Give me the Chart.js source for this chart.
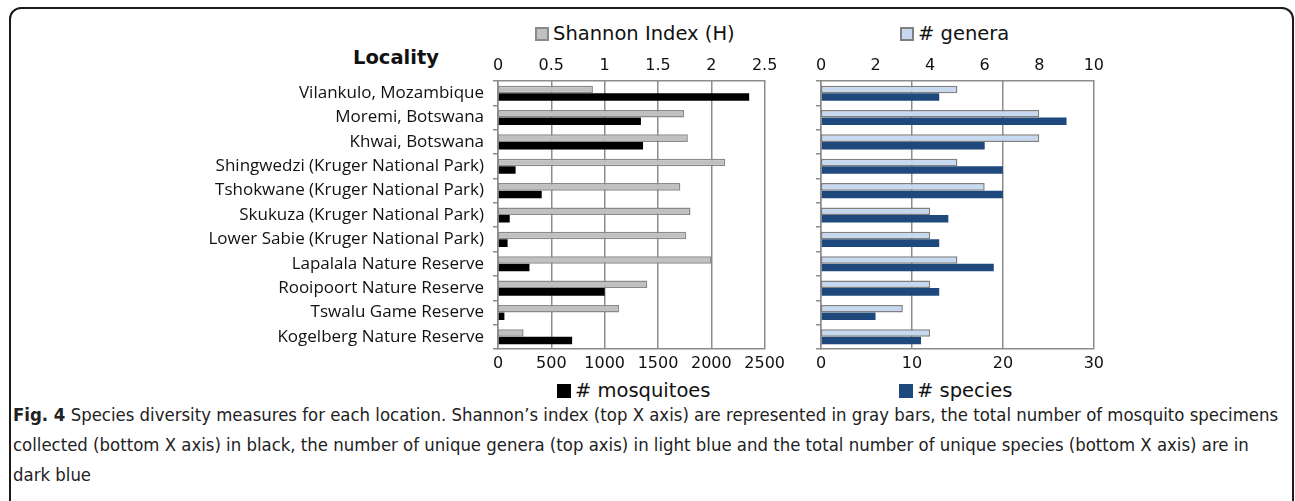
<!DOCTYPE html>
<html>
<head>
<meta charset="utf-8">
<script src="https://cdn.jsdelivr.net/npm/chart.js@4/dist/chart.umd.min.js"></script>
<style>
  body { margin: 0; background: #fff; width: 1295px; height: 501px; overflow: hidden; position: relative; }
  #frame { position: absolute; left: 9px; top: 7px; width: 1285px; height: 510px; border: 2px solid #1a1a1a; border-radius: 12px; box-sizing: border-box; }
  canvas { position: absolute; }
  .leg { position: absolute; font-family: "DejaVu Sans", sans-serif; font-size: 19.5px; color: #111; white-space: nowrap; line-height: 20px; }
  .leg .box { display: inline-block; width: 14px; height: 14px; margin-right: 4px; vertical-align: -1px; box-sizing: border-box; }
  #locality { position: absolute; left: 353px; top: 46px; font-family: "DejaVu Sans", sans-serif; font-weight: bold; font-size: 19.5px; color: #111; }
  .cap { position: absolute; left: 13px; font-family: "DejaVu Sans Condensed", sans-serif; font-size: 18.4px; color: #222; white-space: nowrap; }
</style>
</head>
<body>
<div id="frame"></div>
<div id="locality">Locality</div>
<div class="leg" id="legShannon" style="left:535px; top:24px;"><span class="box" style="background:#c0c0c0; border:2px solid #8a8a8a;"></span>Shannon Index (H)</div>
<div class="leg" id="legGenera" style="left:900px; top:24px;"><span class="box" style="background:#c6d9f1; border:2px solid #808080;"></span># genera</div>
<div class="leg" id="legMosq" style="left:557px; top:381px;"><span class="box" style="background:#000;"></span># mosquitoes</div>
<div class="leg" id="legSpecies" style="left:899px; top:381px;"><span class="box" style="background:#1f497d;"></span># species</div>
<canvas id="left" width="590" height="330" style="left:200px; top:50px;"></canvas>
<canvas id="right" width="310" height="330" style="left:800px; top:50px;"></canvas>
<div class="cap" style="top:404px;"><b>Fig. 4</b> Species diversity measures for each location. Shannon’s index (top X axis) are represented in gray bars, the total number of mosquito specimens</div>
<div class="cap" style="top:434px;">collected (bottom X axis) in black, the number of unique genera (top axis) in light blue and the total number of unique species (bottom X axis) are in</div>
<div class="cap" style="top:464px;">dark blue</div>
<script>
var localities = [
  "Vilankulo, Mozambique",
  "Moremi, Botswana",
  "Khwai, Botswana",
  "Shingwedzi (Kruger National Park)",
  "Tshokwane (Kruger National Park)",
  "Skukuza (Kruger National Park)",
  "Lower Sabie (Kruger National Park)",
  "Lapalala Nature Reserve",
  "Rooipoort Nature Reserve",
  "Tswalu Game Reserve",
  "Kogelberg Nature Reserve"
];

// Shannon index (axe du haut) et nombre de moustiques (axe du bas)
var shannon = [0.89, 1.745, 1.78, 2.13, 1.71, 1.805, 1.765, 2.0, 1.40, 1.135, 0.24];
var mosquitoes = [2355, 1340, 1360, 165, 410, 110, 90, 295, 1000, 60, 695];

// genres (axe du haut) et especes (axe du bas)
var genera = [5, 8, 8, 5, 6, 4, 4, 5, 4, 3, 4];
var species = [13, 27, 18, 20, 20, 14, 13, 19, 13, 6, 11];

var shannonRange = [0, 2.5, 0.5];
var mosquitoRange = [0, 2500, 500];
var generaRange = [0, 10, 2];
var speciesRange = [0, 30, 10];

var axisGray = "#8c8c8c";
var tickFont = { family: "DejaVu Sans", size: 16 };

function numAxis(range, position, showGrid, pad, height) {
  return {
    type: "linear",
    position: position,
    min: range[0],
    max: range[1],
    ticks: {
      stepSize: range[2],
      font: tickFont,
      color: "#111",
      padding: pad,
      callback: function(v) { return String(v); }
    },
    grid: { display: showGrid, color: axisGray, drawTicks: false, lineWidth: 1.5 },
    border: { display: true, color: axisGray, width: 1.5 },
    afterFit: function(s) { s.height = height; }
  };
}

function barChart(id, dsTop, dsBottom, rTop, rBottom, yWidth, showLabels, padRight) {
  var ctx = document.getElementById(id).getContext("2d");
  return new Chart(ctx, {
    type: "bar",
    data: {
      labels: localities,
      datasets: [dsTop, dsBottom]
    },
    options: {
      indexAxis: "y",
      responsive: false,
      animation: false,
      layout: { padding: { left: 0, right: padRight, top: 0, bottom: 0 } },
      plugins: { legend: { display: false }, tooltip: { enabled: false } },
      datasets: { bar: { categoryPercentage: 0.62, barPercentage: 1.0, borderSkipped: false } },
      scales: {
        y: {
          type: "category",
          grid: { drawOnChartArea: false, tickLength: 5, color: axisGray, offset: true, lineWidth: 1.5 },
          border: { color: axisGray, width: 1.5 },
          ticks: {
            display: showLabels,
            autoSkip: false,
            padding: 9,
            color: "#111",
            font: { family: "Open Sans", size: 17 }
          },
          afterFit: function(s) { s.width = yWidth; }
        },
        x: numAxis(rBottom, "bottom", true, 5, 31),
        x2: numAxis(rTop, "top", false, 6, 31)
      }
    }
  });
}

function draw() {
  barChart("left",
    { label: "Shannon Index (H)", data: shannon, xAxisID: "x2",
      backgroundColor: "#c0c0c0", borderColor: "#8a8a8a", borderWidth: 1.5 },
    { label: "# mosquitoes", data: mosquitoes, xAxisID: "x",
      backgroundColor: "#000000", borderWidth: 0 },
    shannonRange, mosquitoRange, 298, true, 16);

  barChart("right",
    { label: "# genera", data: genera, xAxisID: "x2",
      backgroundColor: "#c6d9f1", borderColor: "#808080", borderWidth: 1.5 },
    { label: "# species", data: species, xAxisID: "x",
      backgroundColor: "#1f497d", borderWidth: 0 },
    generaRange, speciesRange, 21, false, 13);
}

// les polices doivent etre chargees avant de dessiner dans le canvas
Promise.all([
  document.fonts.load('17px "Open Sans"'),
  document.fonts.load('16px "DejaVu Sans"')
]).then(draw, draw);
</script>
</body>
</html>
